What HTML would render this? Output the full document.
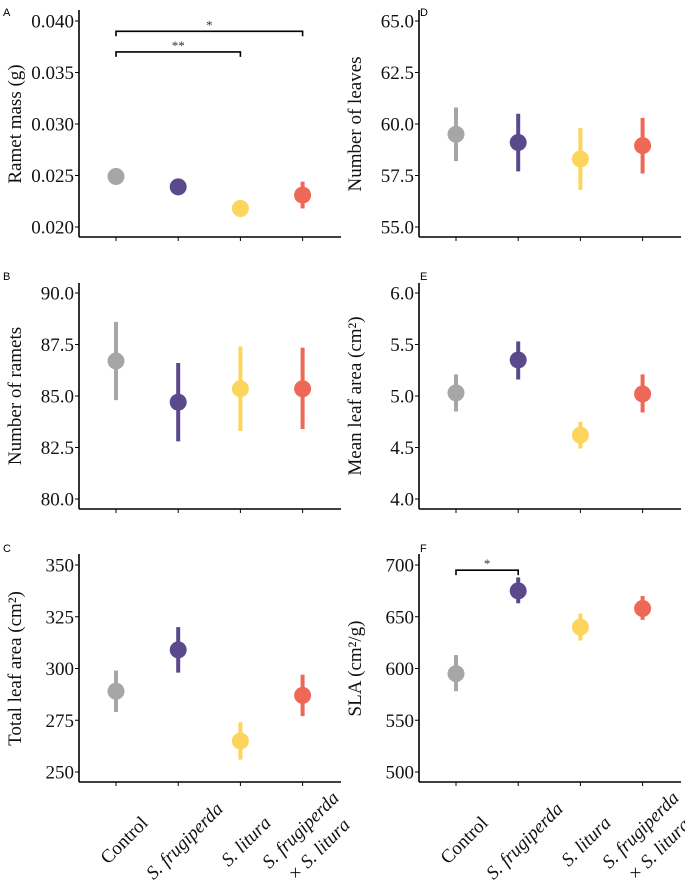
<!DOCTYPE html>
<html><head><meta charset="utf-8"><style>
html,body{margin:0;padding:0;background:#fff;}
svg{display:block;font-family:"Liberation Serif",serif;}
</style></head><body>
<svg id="chart" width="685" height="880" viewBox="0 0 685 880" xmlns="http://www.w3.org/2000/svg"></svg>
<script>
const categories = ["Control","S. frugiperda","S. litura","S. frugiperda + S. litura"];
const colors = ["#a6a6a6","#5b4a8b","#fdd55d","#ee6857"];
const ramMean = [0.0249,0.0239,0.0218,0.0231];
const ramLo = [0.0244,0.0231,0.0216,0.0218];
const ramHi = [0.0255,0.0247,0.0220,0.0244];
const ramTicks = ["0.020","0.025","0.030","0.035","0.040"];
const rmtMean = [86.7,84.7,85.35,85.35];
const rmtLo = [84.8,82.8,83.3,83.4];
const rmtHi = [88.6,86.6,87.4,87.35];
const rmtTicks = ["80.0","82.5","85.0","87.5","90.0"];
const tlaMean = [289,309,265,287];
const tlaLo = [279,298,256,277];
const tlaHi = [299,320,274,297];
const tlaTicks = ["250","275","300","325","350"];
const nlMean = [59.5,59.1,58.3,58.95];
const nlLo = [58.2,57.7,56.8,57.6];
const nlHi = [60.8,60.5,59.8,60.3];
const nlTicks = ["55.0","57.5","60.0","62.5","65.0"];
const mlaMean = [5.03,5.35,4.62,5.02];
const mlaLo = [4.85,5.16,4.49,4.84];
const mlaHi = [5.21,5.53,4.75,5.21];
const mlaTicks = ["4.0","4.5","5.0","5.5","6.0"];
const slaMean = [595,675,640,658];
const slaLo = [578,663,627,647];
const slaHi = [613,688,653,670];
const slaTicks = ["500","550","600","650","700"];

const NS="http://www.w3.org/2000/svg";
const svg=document.getElementById('chart');
function mk(tag,attrs,parent){const e=document.createElementNS(NS,tag);for(const k in attrs)e.setAttribute(k,attrs[k]);(parent||svg).appendChild(e);return e;}

const panels=[
 {id:'a',letter:'A',title:'Ramet mass (g)',mean:ramMean,lo:ramLo,hi:ramHi,ticks:ramTicks,x0:79,lx:3,top:21,bot:227,axisY:237,axTop:10,ly:8,brackets:[[0,3,0.039,'*'],[0,2,0.037,'**']]},
 {id:'b',letter:'B',title:'Number of ramets',mean:rmtMean,lo:rmtLo,hi:rmtHi,ticks:rmtTicks,x0:79,lx:3,top:293,bot:499,axisY:509,axTop:283,ly:272,brackets:[]},
 {id:'c',letter:'C',title:'Total leaf area (cm²)',mean:tlaMean,lo:tlaLo,hi:tlaHi,ticks:tlaTicks,x0:79,lx:3,top:565,bot:772,axisY:782,axTop:554,ly:544,brackets:[],xl:true},
 {id:'d',letter:'D',title:'Number of leaves',mean:nlMean,lo:nlLo,hi:nlHi,ticks:nlTicks,x0:419,lx:420,top:21,bot:227,axisY:237,axTop:10,ly:8,brackets:[]},
 {id:'e',letter:'E',title:'Mean leaf area (cm²)',mean:mlaMean,lo:mlaLo,hi:mlaHi,ticks:mlaTicks,x0:419,lx:420,top:293,bot:499,axisY:509,axTop:283,ly:272,brackets:[]},
 {id:'f',letter:'F',title:'SLA (cm²/g)',mean:slaMean,lo:slaLo,hi:slaHi,ticks:slaTicks,x0:419,lx:420,top:565,bot:772,axisY:782,axTop:554,ly:544,brackets:[[0,1,695,'*']],xl:true}
];

panels.forEach(p=>{
  const g=mk('g',{});
  
  
  const tmin=parseFloat(p.ticks[0]),tmax=parseFloat(p.ticks[p.ticks.length-1]);
  const y=v=>p.bot-(v-tmin)/(tmax-tmin)*(p.bot-p.top);
  const x=i=>p.x0+37+i*62.2;
  const letter=mk('text',{x:p.lx,y:p.ly+8,'font-family':'Liberation Sans, sans-serif','font-size':11,fill:'#000'},g);
  letter.textContent=p.letter;
  
  
  const ya=mk('line',{x1:p.x0,y1:p.axTop,x2:p.x0,y2:p.axisY,stroke:'#000','stroke-width':1.6},g);
  
  
  const xa=mk('line',{x1:p.x0,y1:p.axisY,x2:p.x0+262,y2:p.axisY,stroke:'#000','stroke-width':1.6},g);
  
  
  p.ticks.forEach(t=>{
    const yy=y(parseFloat(t));
    mk('line',{x1:p.x0-4,y1:yy,x2:p.x0,y2:yy,stroke:'#000','stroke-width':1},g);
    const tx=mk('text',{x:p.x0-5,y:yy+6.5,'text-anchor':'end','font-size':19,fill:'#111'},g);
    tx.textContent=t;
    
    
  });
  const cy=(p.top+p.bot)/2;
  const tt=mk('text',{x:p.x0-58,y:cy,'text-anchor':'middle','font-size':19,fill:'#111',transform:`rotate(-90 ${p.x0-58} ${cy})`},g);
  tt.textContent=p.title;
  
  
  categories.forEach((c,i)=>{
    mk('line',{x1:x(i),y1:p.axisY,x2:x(i),y2:p.axisY+4,stroke:'#000','stroke-width':1},g);
    const eb=mk('line',{x1:x(i),y1:y(p.lo[i]),x2:x(i),y2:y(p.hi[i]),stroke:colors[i],'stroke-width':4},g);
    
    
    const pt=mk('circle',{cx:x(i),cy:y(p.mean[i]),r:8.5,fill:colors[i]},g);
    
    
  });
  p.brackets.forEach(b=>{
    const by=y(b[2]);
    const br=mk('path',{d:`M${x(b[0])},${by+5}V${by}H${x(b[1])}V${by+5}`,fill:'none',stroke:'#000','stroke-width':1.6},g);
    
    
    const st=mk('text',{x:(x(b[0])+x(b[1]))/2,y:by-2,'text-anchor':'middle','font-size':13,fill:'#333'},g);
    st.textContent=b[3];
    
    
  });
  if(p.xl){
    const off=p.x0-79;
    const labs=[[["Control",false]],[["S. frugiperda",true]],[["S. litura",true]],[["S. frugiperda",true],["× S. litura",true]]];
    const ends=[[[149,824]],[[224,810]],[[272,824]],[[340,799],[351,826]]];
    labs.forEach((L,i)=>{
      L.forEach((ln,j)=>{
        const ex=ends[i][j][0]+off,ey=ends[i][j][1];
        const t=mk('text',{x:ex,y:ey,'text-anchor':'end','font-size':19,fill:'#111','font-style':ln[1]?'italic':'normal',transform:`rotate(-45 ${ex} ${ey})`},g);
        t.textContent=ln[0];
        
        
      });
    });
  }
});
</script>
</body></html>
